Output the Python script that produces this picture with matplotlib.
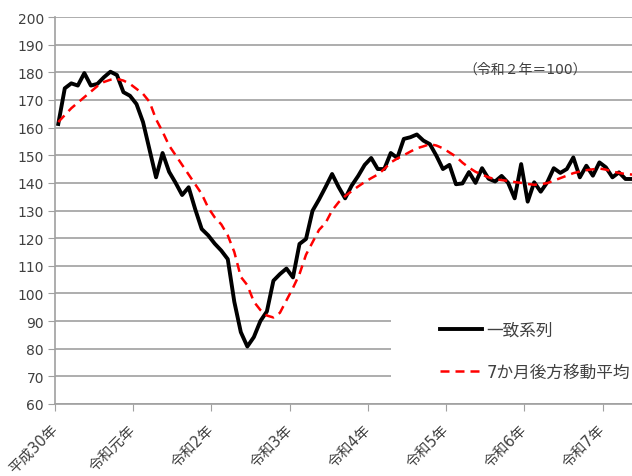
import numpy as np
import matplotlib
matplotlib.use('Agg')
import matplotlib.pyplot as plt
from matplotlib.patches import Rectangle

plt.rcParams['font.family'] = ['DejaVu Sans', 'Noto Sans CJK JP']

# monthly values, 平成30年1月 onwards
coincident = [161.3, 174.2, 176.0, 175.2, 179.7, 175.2, 175.8, 178.2, 180.2, 179.0,
              172.8, 171.5, 168.5, 162.0, 152.0, 142.0, 150.8, 144.0, 140.0, 135.6,
              138.4, 130.5, 123.3, 121.0, 118.0, 115.5, 112.4, 97.0, 86.0, 80.8,
              84.2, 90.0, 93.5, 104.6, 107.0, 109.0, 105.8, 117.9, 119.7, 129.9,
              134.0, 138.5, 143.2, 138.5, 134.4, 139.0, 142.5, 146.5, 149.0, 145.0,
              145.0, 150.8, 149.0, 155.9, 156.5, 157.5, 155.3, 154.0, 149.8, 145.0,
              146.5, 139.5, 139.8, 143.9, 140.0, 145.3, 141.5, 140.5, 142.5, 140.0,
              134.4, 146.8, 133.2, 140.2, 136.8, 140.2, 145.3, 143.6, 145.0, 149.2,
              142.0, 146.2, 142.6, 147.4, 145.6, 142.0, 143.8, 141.4, 141.4]
moving_avg = [162.0, 164.5, 167.0, 169.0, 171.0, 173.0, 175.0, 176.5, 177.3, 177.6,
              177.0, 175.8, 174.0, 172.2, 169.3, 163.0, 158.5, 153.5, 150.0, 146.5,
              143.0, 139.5, 136.0, 131.0, 127.5, 125.0, 121.0, 115.0, 106.0, 103.0,
              97.0, 94.0, 92.0, 91.3, 93.0, 97.5, 102.0, 107.0, 114.0, 118.5,
              123.0, 125.5, 130.0, 133.0, 135.2, 137.0, 138.7, 140.3, 141.7, 143.0,
              145.0, 147.4, 148.8, 150.0, 151.3, 152.5, 153.2, 154.0, 153.5, 152.5,
              151.0, 149.5, 147.3, 145.5, 144.0, 143.0, 142.0, 141.3, 141.0, 140.7,
              140.3, 140.0, 139.6, 139.3, 139.5, 139.9, 140.8, 141.7, 142.6, 143.5,
              144.1, 144.6, 144.9, 145.2, 144.8, 144.1, 143.6, 143.2, 143.0]
year_labels = ['平成30年', '令和元年', '令和2年', '令和3年', '令和4年', '令和5年', '令和6年', '令和7年']
series_names = ['一致系列', '7か月後方移動平均']
base_note = '（令和２年＝100）'

months = np.arange(len(coincident)) + 0.5   # points sit between monthly ticks

fig = plt.figure(figsize=(6.32, 4.77), dpi=100)
ax = fig.add_axes([55/632, 72/477, 577/632, 387/477])
ax.set_xlim(0, 88.5)
ax.set_ylim(60, 200)

grey = '#a0a0a0'
txt = '#404040'
ax.set_yticks(range(60, 201, 10))
ax.grid(axis='y', color=grey, lw=1.2)
ax.set_axisbelow(True)
for s in ['top', 'right']:
    ax.spines[s].set_visible(False)
for s in ['left', 'bottom']:
    ax.spines[s].set_color(grey)
    ax.spines[s].set_linewidth(1.2)

ax.set_xticks(np.arange(len(year_labels)) * 12)
ax.set_xticklabels(year_labels, rotation=45, ha='right', va='center', rotation_mode='anchor')
ax.tick_params(axis='x', length=5, pad=11, color=grey, labelcolor=txt, labelsize=10.5)
ax.tick_params(axis='y', length=5, pad=3, color=grey, labelcolor=txt, labelsize=10)

# white box behind the legend covers the grid
ax.add_patch(Rectangle((51.5, 61.8), 40, 37.3, facecolor='white', edgecolor='none', zorder=1))

ax.plot(months, coincident, color='black', lw=2.8, label=series_names[0], zorder=3)
ax.plot(months, moving_avg, color='#ff0000', lw=1.8, ls=(0, (3.6, 2.4)), label=series_names[1], zorder=4)

ax.text(72.1, 181.2, base_note, ha='center', va='center', fontsize=10, color=txt)

ax.legend(loc='upper left', bbox_to_anchor=(0.667, 0.215), frameon=False, borderpad=0,
          borderaxespad=0, handlelength=2.5, handletextpad=0.3, labelspacing=1.45,
          fontsize=12, labelcolor=txt)

fig.savefig('out.png', dpi=100, facecolor='white')
